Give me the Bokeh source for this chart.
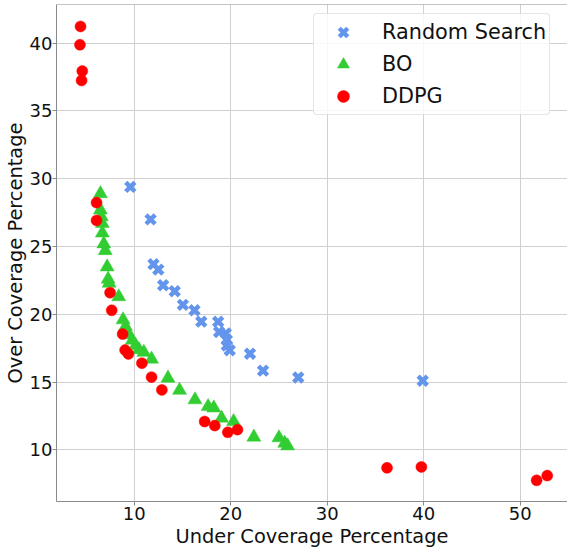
from bokeh.plotting import figure
from bokeh.models import Range1d, Legend, LegendItem, Span, FixedTicker
from bokeh.embed import file_html
from bokeh.resources import INLINE

# ---- data ----
rs_x = [9.6, 11.7, 12.0, 12.5, 13.0, 14.2, 15.05, 16.25, 16.95, 18.7, 18.8, 19.5, 19.6, 19.6, 19.9, 22.0, 23.35, 27.0, 39.9]
rs_y = [29.4, 27.0, 23.7, 23.3, 22.15, 21.7, 20.7, 20.3, 19.46, 19.46, 18.7, 18.6, 18.1, 17.7, 17.35, 17.1, 15.85, 15.34, 15.1]

bo_x = [6.5, 6.5, 6.6, 6.7, 6.7, 6.85, 7.0, 7.2, 7.3, 7.4, 8.4, 8.85, 9.1, 9.45, 9.8, 10.15, 10.5, 11.0, 11.8,
        13.5, 14.7, 16.3, 17.66, 18.25, 19.05, 20.3, 22.4, 25.0, 25.6, 25.9]
bo_y = [28.9, 27.7, 27.2, 26.7, 26.0, 25.2, 24.7, 23.5, 22.6, 22.3, 21.3, 19.6, 19.1, 18.5, 18.1, 17.7, 17.4, 17.2, 16.7,
        15.3, 14.4, 13.7, 13.2, 13.1, 12.35, 12.1, 10.95, 10.9, 10.5, 10.3]

ddpg_x = [4.44, 4.38, 4.62, 4.55, 6.1, 6.1, 7.5, 7.67, 8.8, 9.06, 9.4, 10.8, 11.8, 12.87, 17.3, 18.35, 19.7, 20.7,
          36.2, 39.76, 51.7, 52.8]
ddpg_y = [41.23, 39.88, 37.94, 37.25, 28.24, 26.93, 21.6, 20.3, 18.55, 17.37, 17.08, 16.4, 15.37, 14.43, 12.1, 11.8, 11.3, 11.5,
          8.68, 8.75, 7.76, 8.11]

x_ticks = [10, 20, 30, 40, 50]
y_ticks = [10, 15, 20, 25, 30, 35, 40]

series_names = ["Random Search", "BO", "DDPG"]
colors = ["#6495ED", "#32CD32", "#FF0000"]

FONT = "DejaVu Sans"
X0, X1 = 1.95, 54.9
Y0, Y1 = 6.2, 42.85

p = figure(width=567, height=550, output_backend="svg", toolbar_location=None,
           x_range=Range1d(X0, X1), y_range=Range1d(Y0, Y1),
           min_border_left=0, min_border_right=0, min_border_top=4, min_border_bottom=0)

p.background_fill_color = "white"
p.border_fill_color = "white"
p.outline_line_color = None

GRAY = "#8a8a8a"
for ax in (p.xaxis[0], p.yaxis[0]):
    ax.axis_line_color = GRAY
    ax.axis_line_width = 1
    ax.major_tick_line_color = GRAY
    ax.major_tick_out = 4
    ax.major_tick_in = 0
    ax.minor_tick_line_color = None
    ax.major_label_text_font = FONT
    ax.major_label_text_font_size = "18px"
    ax.major_label_text_color = "#111111"
    ax.axis_label_text_font = FONT
    ax.axis_label_text_font_size = "19.4px"
    ax.axis_label_text_font_style = "normal"
    ax.axis_label_text_color = "#111111"

p.xaxis.major_label_standoff = 1
p.xaxis.axis_label_standoff = 2
p.yaxis.major_label_standoff = 0
p.yaxis.axis_label_standoff = 0

p.xaxis.ticker = FixedTicker(ticks=x_ticks)
p.yaxis.ticker = FixedTicker(ticks=y_ticks)
p.xaxis.axis_label = "Under Coverage Percentage"
p.yaxis.axis_label = "Over Coverage Percentage"

p.grid.grid_line_color = "#d0d0d0"
p.grid.grid_line_width = 1

p.add_layout(Span(location=Y1, dimension="width", line_color=GRAY, line_width=1))

r1 = p.scatter(rs_x, rs_y, marker="x", size=13, line_width=4.5, line_color=colors[0], fill_color=colors[0])
r2 = p.scatter(bo_x, bo_y, marker="triangle", size=14, line_color=colors[1], fill_color=colors[1], line_width=0.5)
r3 = p.scatter(ddpg_x, ddpg_y, marker="circle", size=11, line_color=colors[2], fill_color=colors[2], line_width=0.5)

legend = Legend(items=[LegendItem(label=series_names[0], renderers=[r1]),
                       LegendItem(label=series_names[1], renderers=[r2]),
                       LegendItem(label=series_names[2], renderers=[r3])],
                location=(257, 386))
legend.label_text_font = FONT
legend.label_text_font_size = "20.8px"
legend.label_text_color = "#111111"
legend.padding = 3
legend.glyph_width = 52
legend.glyph_height = 30
legend.label_height = 30
legend.label_standoff = 13
legend.spacing = 2
legend.margin = 0
legend.border_line_color = "#cccccc"
legend.border_line_width = 1
legend.border_radius = 4
legend.background_fill_color = "white"
legend.background_fill_alpha = 0.85
p.add_layout(legend)

open("out.html", "w").write(file_html(p, INLINE))
